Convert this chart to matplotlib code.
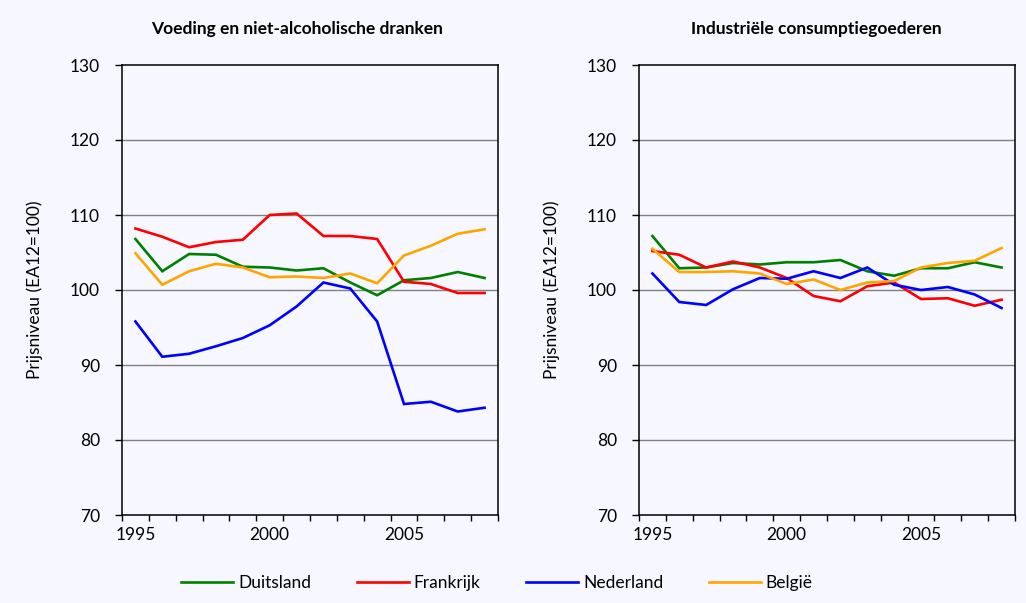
import matplotlib
matplotlib.use("Agg")
import matplotlib.pyplot as plt
from matplotlib.ticker import FixedLocator, NullFormatter, FixedFormatter

plt.rcParams['font.family'] = ['Lato', 'DejaVu Sans']

years = list(range(1995, 2009))

# Voeding en niet-alcoholische dranken
food_duitsland = [106.8, 102.5, 104.8, 104.7, 103.1, 103.0, 102.6, 102.9, 101.0, 99.3, 101.3, 101.6, 102.4, 101.6]
food_frankrijk = [108.2, 107.1, 105.7, 106.4, 106.7, 110.0, 110.2, 107.2, 107.2, 106.8, 101.1, 100.8, 99.6, 99.6]
food_nederland = [95.8, 91.1, 91.5, 92.5, 93.6, 95.3, 97.8, 101.0, 100.2, 95.8, 84.8, 85.1, 83.8, 84.3]
food_belgie = [104.9, 100.7, 102.5, 103.5, 103.0, 101.7, 101.8, 101.6, 102.2, 100.9, 104.6, 105.9, 107.5, 108.1]

# Industriële consumptiegoederen
ind_duitsland = [107.2, 102.9, 103.0, 103.6, 103.4, 103.7, 103.7, 104.0, 102.5, 101.9, 102.9, 102.9, 103.7, 103.0]
ind_frankrijk = [105.2, 104.7, 103.0, 103.8, 103.0, 101.6, 99.2, 98.5, 100.5, 101.0, 98.8, 98.9, 97.9, 98.7]
ind_nederland = [102.2, 98.4, 98.0, 100.1, 101.6, 101.5, 102.5, 101.6, 103.0, 100.7, 100.0, 100.4, 99.4, 97.6]
ind_belgie = [105.5, 102.4, 102.4, 102.5, 102.2, 100.8, 101.4, 100.0, 101.0, 101.2, 103.0, 103.6, 103.9, 105.6]

countries = ['Duitsland', 'Frankrijk', 'Nederland', 'België']
colors = ['#008000', '#FF0000', '#0000FF', '#FFA500']
titles = ['Voeding en niet-alcoholische dranken', 'Industriële consumptiegoederen']
year_labels = ['1995', '2000', '2005']
label_years = [1995, 2000, 2005]
ylabel = 'Prijsniveau (EA12=100)'

bg = '#F7F7FF'
W, H = 1026, 603
fig = plt.figure(figsize=(W / 100, H / 100), dpi=100, facecolor=bg)

panels = [
    ([food_duitsland, food_frankrijk, food_nederland, food_belgie], 122, 297),
    ([ind_duitsland, ind_frankrijk, ind_nederland, ind_belgie], 639, 816),
]

handles = None
for i, (series, left_px, title_x) in enumerate(panels):
    ax = fig.add_axes([left_px / W, (H - 515) / H, 376 / W, 450 / H])
    ax.set_facecolor(bg)
    hs = []
    for vals, c, name in zip(series, colors, countries):
        h, = ax.plot(years, vals, color=c, lw=1.9, label=name, solid_joinstyle='miter')
        hs.append(h)
    handles = hs
    ax.set_xlim(1994.5, 2008.5)
    ax.set_ylim(70, 130)
    ax.set_yticks([70, 80, 90, 100, 110, 120, 130])
    for g in [80, 90, 100, 110, 120]:
        ax.axhline(g, color='#808080', lw=1.0, zorder=0)
    ax.xaxis.set_major_locator(FixedLocator([y - 0.5 for y in years] + [years[-1] + 0.5]))
    ax.xaxis.set_major_formatter(NullFormatter())
    ax.xaxis.set_minor_locator(FixedLocator(label_years))
    ax.xaxis.set_minor_formatter(FixedFormatter(year_labels))
    ax.tick_params(axis='x', which='major', direction='out', length=4, width=1, color='black')
    ax.tick_params(axis='x', which='minor', length=0, pad=9, labelsize=12.5)
    ax.tick_params(axis='y', direction='out', length=5, width=1, pad=11, labelsize=12.5)
    for s in ax.spines.values():
        s.set_color('black')
        s.set_linewidth(1.1)
    ax.set_ylabel(ylabel, fontsize=12.5, labelpad=19)
    fig.text(title_x / W, 1 - 29 / H, titles[i], ha='center', va='center',
             fontsize=12.5, fontweight='bold')

fig.legend(handles, countries, loc='center', bbox_to_anchor=(497 / W, 1 - 583 / H),
           ncol=4, frameon=False, fontsize=12.5, handlelength=3.0, handletextpad=0.3,
           columnspacing=2.6)

fig.savefig('out.png', dpi=100, facecolor=bg)
